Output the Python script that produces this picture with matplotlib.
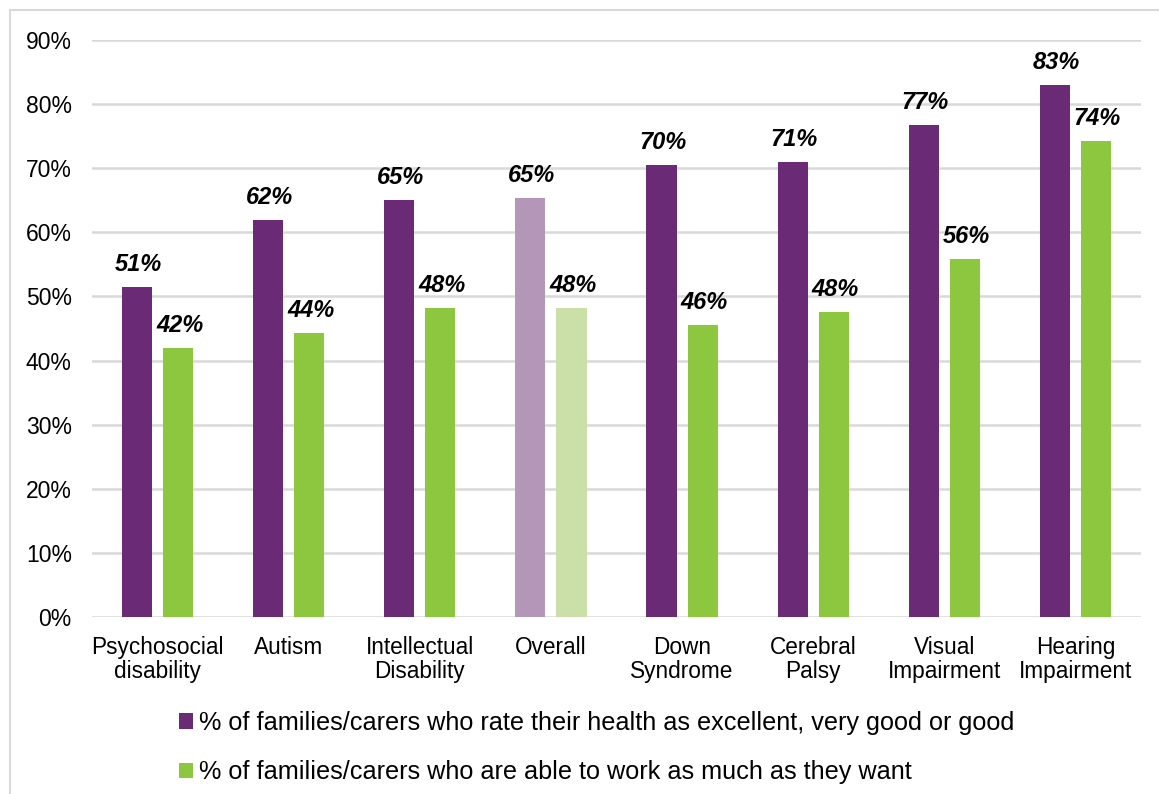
import matplotlib
matplotlib.use("Agg")
import matplotlib.pyplot as plt
from matplotlib.patches import Patch
from matplotlib.lines import Line2D
import numpy as np

plt.rcParams['font.family'] = ['Liberation Sans', 'DejaVu Sans']

categories = ["Psychosocial\ndisability", "Autism", "Intellectual\nDisability", "Overall",
              "Down\nSyndrome", "Cerebral\nPalsy", "Visual\nImpairment", "Hearing\nImpairment"]
health = [51.5, 62.0, 65.0, 65.3, 70.5, 71.0, 76.8, 83.0]
work = [42.0, 44.3, 48.2, 48.2, 45.6, 47.6, 55.8, 74.2]
health_labels = ["51%", "62%", "65%", "65%", "70%", "71%", "77%", "83%"]
work_labels = ["42%", "44%", "48%", "48%", "46%", "48%", "56%", "74%"]
legend_labels = ["% of families/carers who rate their health as excellent, very good or good",
                 "% of families/carers who are able to work as much as they want"]
yticks = [0, 10, 20, 30, 40, 50, 60, 70, 80, 90]

purple = "#6B2A75"
green = "#8DC63F"
purple_light = "#B396B8"
green_light = "#CBDFA8"

W, H = 1159, 794
fig = plt.figure(figsize=(W / 100, H / 100), dpi=100)
ax = fig.add_axes([92 / W, 1 - 617 / H, (1141 - 92) / W, (617 - 40) / H])

x = np.arange(len(categories))
bw = 0.23
off = 0.157
hc = [purple_light if c == "Overall" else purple for c in categories]
wc = [green_light if c == "Overall" else green for c in categories]
ax.bar(x - off, health, bw, color=hc, zorder=3)
ax.bar(x + off, work, bw, color=wc, zorder=3)

for xi, v, lab in zip(x, health, health_labels):
    ax.annotate(lab, (xi - off, v), xytext=(1, 11.5), textcoords="offset points",
                ha="center", va="baseline", fontsize=17, fontweight="bold",
                fontstyle="italic", color="black")
for xi, v, lab in zip(x, work, work_labels):
    ax.annotate(lab, (xi + off, v), xytext=(1, 11.5), textcoords="offset points",
                ha="center", va="baseline", fontsize=17, fontweight="bold",
                fontstyle="italic", color="black")

ax.set_xlim(-0.5, len(categories) - 0.5)
ax.set_ylim(0, 90)
ax.set_yticks(yticks)
ax.set_yticklabels([f"{t}%" for t in yticks], fontsize=16.5)
ax.set_xticks(x)
ax.set_xticklabels(categories, fontsize=16.3, linespacing=1.05)
ax.tick_params(axis="both", length=0, colors="black")
ax.tick_params(axis="y", pad=14.5)
ax.tick_params(axis="x", pad=14.0)
ax.yaxis.grid(True, color="#D9D9D9", linewidth=1.8, zorder=0)
ax.set_axisbelow(True)
for s in ax.spines.values():
    s.set_visible(False)

handles = [Patch(facecolor=purple, edgecolor="none"), Patch(facecolor=green, edgecolor="none")]
fig.legend(handles, legend_labels, loc="upper left", bbox_to_anchor=(179 / W, 1 - 711 / H),
           frameon=False, fontsize=18.2, handlelength=0.55, handleheight=0.55,
           handletextpad=0.25, labelspacing=1.0, borderpad=0, borderaxespad=0)

# outer frame (light gray)
fig.add_artist(Line2D([10 / W, 10 / W], [0, 1 - 10 / H], color="#D9D9D9", linewidth=1.5,
                      transform=fig.transFigure))
fig.add_artist(Line2D([10 / W, 1], [1 - 10 / H, 1 - 10 / H], color="#D9D9D9", linewidth=1.5,
                      transform=fig.transFigure))

fig.savefig("out.png", dpi=100)
